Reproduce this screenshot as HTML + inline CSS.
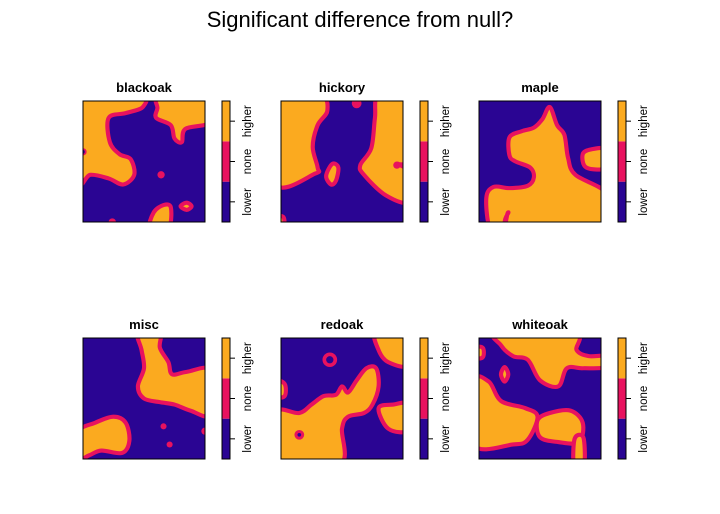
<!DOCTYPE html>
<html><head><meta charset="utf-8"><style>
body{margin:0;background:#fff}
svg{display:block;font-family:"Liberation Sans",sans-serif}
</style></head><body>
<svg id="c" width="720" height="514">
<text x="360" y="27" font-size="22" text-anchor="middle">Significant difference from null?</text>
</svg>
<script>
const panelNames = ["blackoak","hickory","maple","misc","redoak","whiteoak"];
const levelLabels = ["lower","none","higher"];
const levelColors = ["#2a0593","#e8125f","#fbaa1f"];
// blob shapes (0-100 panel units): orange regions, pink dots
const orangeBlobs = [
 [[[-5,-5],[47,-5],[49,5],[35,10],[21,14],[22,34],[30,44],[39,48],[42,61],[33,69],[21,64],[6,61],[-5,67]],
  [[63,-5],[105,-5],[105,17],[84,23],[81,34],[75,31],[72,20],[60,14],[61,6]],
  [[55,105],[58,92],[66,86],[72,88],[70,105]],
  [[80,87],[85,84],[89,87],[85,90]]],
 [[[-5,-5],[32,-5],[38,8],[30,20],[26,38],[30,55],[28,60],[-5,68]],
  [[37,62],[42,52],[47,55],[45,66],[41,69]],
  [[80,-5],[105,-5],[105,50],[96,52],[105,56],[105,83],[86,78],[68,61],[65,53],[74,39],[77,14]],
  [[-5,96],[2,96],[2,105],[-5,105]]],
 [[[58,5],[64,20],[70,28],[73,47],[79,61],[105,77],[105,105],[28,105],[24,92],[20,105],[9,105],[6,80],[12,71],[25,72],[40,70],[45,63],[42,55],[30,50],[25,45],[25,30],[35,25],[45,22],[52,15]],
  [[85,44],[92,40],[105,40],[105,55],[88,55]]],
 [[[45,-5],[63,-5],[63,8],[70,20],[73,30],[85,28],[105,27],[105,63],[88,60],[75,55],[63,53],[50,50],[45,40],[50,25],[48,10]],
  [[-5,78],[10,70],[25,65],[35,70],[38,85],[32,95],[15,93],[5,97],[-5,100]]],
 [[[-5,62],[15,62],[25,55],[35,48],[45,47],[50,40],[55,45],[62,35],[70,25],[78,25],[80,40],[75,55],[68,62],[55,65],[50,75],[48,105],[-5,105]],
  [[-5,35],[3,38],[3,48],[-5,48]],
  [[78,-5],[105,-5],[105,22],[88,20],[80,10]],
  [[80,58],[92,55],[105,55],[105,76],[88,75]]],
 [[[15,-5],[78,-5],[80,10],[90,15],[105,15],[105,24],[85,25],[72,25],[65,40],[50,35],[40,18],[28,15],[18,6]],
  [[-5,36],[8,36],[18,52],[38,58],[48,65],[40,84],[28,88],[-5,88]],
  [[48,68],[58,62],[75,60],[85,70],[82,86],[65,86],[50,82]],
  [[78,85],[82,80],[86,84],[86,105],[78,105]],
  [[18,30],[21,24],[24,30],[21,36]],
  [[-5,8],[3,8],[3,16],[-5,16]]]
];
const pinkDots = [[[64,61,3],[24,100,3],[0,42,3]],[[62,2,4],[95,53,3]],[],[[66,73,2.5],[71,88,2.5],[100,77,3]],[[40,18,6],[15,80,4]],[]];
const pinkDotHoles = [[[0,42,1.5]],[],[],[],[[40,18,3],[15,80,1.5]],[]];

const svg=document.getElementById('c');
const NS='http://www.w3.org/2000/svg';
function mk(t,a){const e=document.createElementNS(NS,t);for(const k in a)e.setAttribute(k,a[k]);return e;}
function smooth(p){let n=p.length,d=`M${p[0][0]},${p[0][1]}`;for(let i=0;i<n;i++){const p0=p[(i-1+n)%n],p1=p[i],p2=p[(i+1)%n],p3=p[(i+2)%n];d+=`C${p1[0]+(p2[0]-p0[0])/6},${p1[1]+(p2[1]-p0[1])/6} ${p2[0]-(p3[0]-p1[0])/6},${p2[1]-(p3[1]-p1[1])/6} ${p2[0]},${p2[1]}`;}return d+'Z';}
const defs=mk('defs',{});svg.appendChild(defs);
panelNames.forEach((name,i)=>{
 const x0=[83,281,479][i%3], y0=[101,338][Math.floor(i/3)], w=122, h=121;
 const cp=mk('clipPath',{id:'cp'+i});cp.appendChild(mk('rect',{x:0,y:0,width:100,height:100}));defs.appendChild(cp);
 const g=mk('g',{transform:`translate(${x0},${y0}) scale(${w/100},${h/100})`});
 
 
 const inner=mk('g',{'clip-path':`url(#cp${i})`});
 inner.appendChild(mk('rect',{x:0,y:0,width:100,height:100,fill:levelColors[0]}));
 orangeBlobs[i].forEach(b=>{
  const p=mk('path',{d:smooth(b),fill:levelColors[2],stroke:levelColors[1],'stroke-width':3.4,'stroke-linejoin':'round'});
  
  
  inner.appendChild(p);});
 pinkDots[i].forEach(d=>inner.appendChild(mk('circle',{cx:d[0],cy:d[1],r:d[2],fill:levelColors[1]})));
 pinkDotHoles[i].forEach(d=>inner.appendChild(mk('circle',{cx:d[0],cy:d[1],r:d[2],fill:levelColors[0]})));
 g.appendChild(inner);svg.appendChild(g);
 const frame=mk('rect',{x:x0,y:y0,width:w,height:h,fill:'none',stroke:'#000','stroke-width':1});
 
 
 svg.appendChild(frame);
 const t=mk('text',{x:x0+w/2,y:y0-9,'font-size':13,'font-weight':'bold','text-anchor':'middle'});t.textContent=name;
 
 
 svg.appendChild(t);
 const cx=x0+139, seg=h/3;
 levelLabels.forEach((lab,k)=>{
  const yy=y0+h-(k+1)*seg;
  const r=mk('rect',{x:cx,y:yy,width:8,height:seg,fill:levelColors[k]});
  
  
  svg.appendChild(r);
  svg.appendChild(mk('line',{x1:cx+8,x2:cx+13,y1:yy+seg/2,y2:yy+seg/2,stroke:'#000'}));
  const tl=mk('text',{x:cx+29,y:yy+seg/2,'font-size':11.5,'text-anchor':'middle',transform:`rotate(-90 ${cx+29} ${yy+seg/2})`});
  tl.textContent=lab;
  
  
  svg.appendChild(tl);
 });
 svg.appendChild(mk('rect',{x:cx,y:y0,width:8,height:h,fill:'none',stroke:'#000'}));
});
</script>
</body></html>
